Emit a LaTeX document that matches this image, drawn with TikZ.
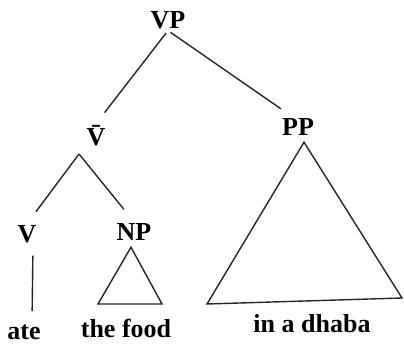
\documentclass[tikz,border=0pt]{standalone}
\usepackage{fontspec}
\setmainfont{Liberation Serif}
\usetikzlibrary{calc}
\tikzset{
  cat/.style    = {font=\fontsize{26}{30}\selectfont\bfseries, inner sep=1pt,
                   anchor=base},
  word/.style   = {cat},
  branch/.style = {line width=1.4pt, draw=black!85, line join=miter}
}
\begin{document}
\begin{tikzpicture}[x=1pt, y=-1pt]
\useasboundingbox (0,0) rectangle (404,345);
% Categories
\node[cat] (vp)   at (168,29)  {VP};
\node[cat] (vbar) at (96,145)  {\={V}};
\node[cat] (pp)   at (298,135) {PP};
\node[cat] (v)    at (27,242)  {V};
\node[cat] (np)   at (134,240) {NP};
% Words
\node[word] (ate)   at (24,339)  {ate};
\node[word] (food)  at (126,337) {the food};
\node[word] (dhaba) at (312,332) {in a dhaba};
% Branches
\coordinate (vfork) at (79,154);
\draw[branch, shorten <=3pt, shorten >=14pt] (vp.south) -- (vbar.north);
\draw[branch, shorten <=3pt, shorten >=14pt] (vp.south) -- (pp.120);
\draw[branch, shorten >=15pt] (vfork) -- (v.north);
\draw[branch, shorten >=16pt] (vfork) -- (np.north);
\draw[branch, shorten <=12pt, shorten >=12pt]
  ([xshift=6pt]v.south) -- ([xshift=8pt]ate.north);
% Triangles
\coordinate (npL) at (98,304);
\coordinate (npR) at (162,304);
\coordinate (ppL) at (207,304);
\coordinate (ppR) at (402,298);
\draw[branch] ([shift={(-3pt,-6pt)}]np.south) -- (npR) -- (npL) -- cycle;
\draw[branch] ([shift={(6pt,-6pt)}]pp.south) -- (ppR) -- (ppL) -- cycle;
\end{tikzpicture}
\end{document}
